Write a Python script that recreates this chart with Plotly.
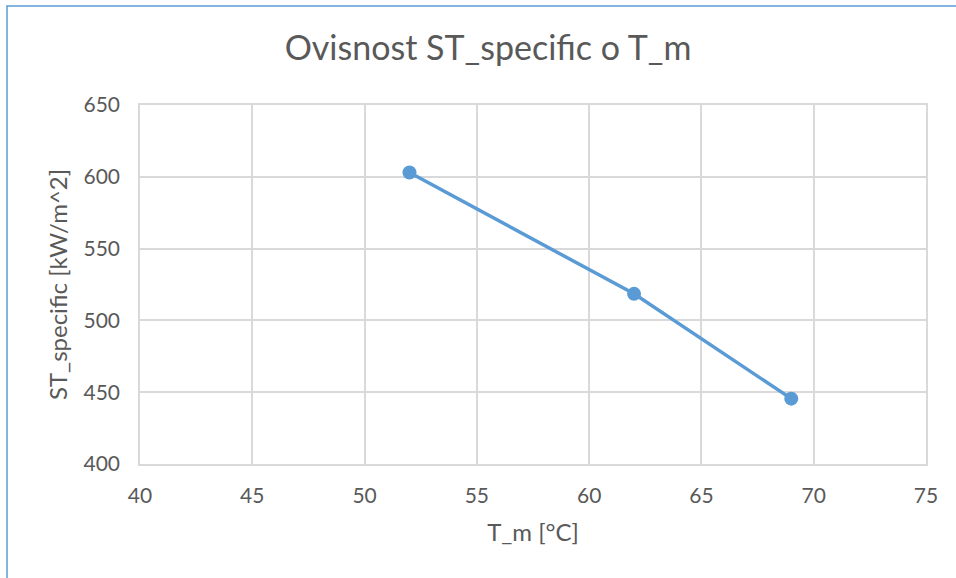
import plotly.graph_objects as go

t_m = [52, 62, 69]
st_specific = [603, 518.5, 445.5]

x_ticks = [40, 45, 50, 55, 60, 65, 70, 75]
y_ticks = [400, 450, 500, 550, 600, 650]

BLUE = "#5B9BD5"
GRID = "#D9D9D9"
TEXT = "#595959"
FONT = "Lato, Carlito, Calibri, sans-serif"

fig = go.Figure()
fig.add_trace(go.Scatter(
    x=t_m, y=st_specific, mode="lines+markers",
    line=dict(color=BLUE, width=3.5),
    marker=dict(color=BLUE, size=14),
    showlegend=False,
))

fig.update_layout(
    width=956, height=578,
    margin=dict(l=140, r=30, t=105, b=114),
    paper_bgcolor="white", plot_bgcolor="white",
    font=dict(family=FONT, color=TEXT, size=21),
    title=dict(text="Ovisnost ST_specific o T_m", x=488/956, xanchor="center",
               xref="container", y=1 - 48/578, yref="container", yanchor="middle",
               font=dict(size=34, color=TEXT, family=FONT)),
    xaxis=dict(range=[40, 75], tickvals=x_ticks, showgrid=True, gridcolor=GRID,
               gridwidth=1.5, showline=True, linecolor=GRID, linewidth=1.5, mirror=True,
               zeroline=False, ticks="", ticklabelstandoff=12,
               title=dict(text="T_m [°C]", standoff=18, font=dict(size=24))),
    yaxis=dict(range=[400, 650], tickvals=y_ticks, showgrid=True, gridcolor=GRID,
               gridwidth=1.5, showline=True, linecolor=GRID, linewidth=1.5, mirror=True,
               zeroline=False, ticks="", ticklabelstandoff=14,
               title=dict(text="ST_specific [kW/m^2]", standoff=9, font=dict(size=24))),
)

fig.add_shape(type="rect", xref="paper", yref="paper",
              x0=(7 - 140) / 786, x1=1.5, y0=-1, y1=(464 - 6) / 359,
              line=dict(color=BLUE, width=1.5), fillcolor="rgba(0,0,0,0)", layer="below")

fig.write_html("out.html", config={"displayModeBar": False},
               post_script="document.body.style.margin='0';")
